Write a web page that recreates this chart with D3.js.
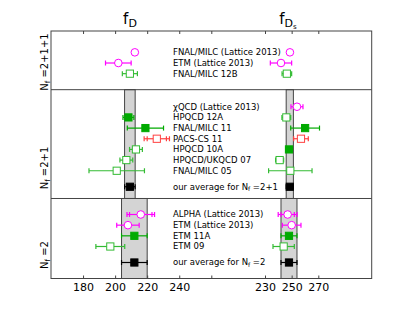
<!DOCTYPE html>
<html>
<head>
<meta charset="utf-8">
<script src="https://cdn.jsdelivr.net/npm/d3@7"></script>
<style>
  body { margin: 0; background: #fff; }
  svg { display: block; font-family: "DejaVu Sans", sans-serif; }
</style>
</head>
<body>
<svg></svg>
<script>
// Chart size
const width = 413, height = 310;

// Data: one entry per row, top to bottom
const sections = ['2+1+1', '2+1', '2'];
const labels = [
    'FNAL/MILC (Lattice 2013)', 'ETM (Lattice 2013)', 'FNAL/MILC 12B',
    'χQCD (Lattice 2013)', 'HPQCD 12A', 'FNAL/MILC 11', 'PACS-CS 11', 'HPQCD 10A',
    'HPQCD/UKQCD 07', 'FNAL/MILC 05', 'our average for',
    'ALPHA (Lattice 2013)', 'ETM (Lattice 2013)', 'ETM 11A', 'ETM 09', 'our average for'
];
const rowSection = [0, 0, 0, 1, 1, 1, 1, 1, 1, 1, 1, 2, 2, 2, 2, 2];
const fD      = [212.3, 202, 209.2, null, 208.3, 218.9, 226, 213, 207, 201, 209.2, 216, 208, 212, 197, 212];
const fDErr   = [1.0, 8, 4.7, null, 3.4, 11.3, 7.9, 4, 4, 17.3, 3.3, 8.6, 7, 8, 9, 8];
const fDStat  = [null, null, null, null, null, null, 6, null, null, null, null, 7, null, null, null, null];
const fDs     = [248.7, 242, 246.4, 254, 246.0, 260.1, 257, 248.0, 241, 249, 248.6, 247, 250, 248, 244, 248];
const fDsErr  = [1.0, 8, 3.6, 4.5, 3.3, 10.8, 5.5, 2.5, 3, 16.3, 2.7, 7.1, 7, 6, 8, 6];
const fDsStat = [null, null, null, null, null, null, null, null, null, null, null, 5, null, null, null, null];
// marker category per point
const fDKind  = ['conf', 'conf', 'open', null, 'filled', 'filled', 'red', 'open', 'open', 'open', 'avg',
                 'conf', 'conf', 'filled', 'open', 'avg'];
const fDsKind = ['conf', 'conf', 'open', 'conf', 'open', 'filled', 'red', 'filled', 'open', 'open', 'avg',
                 'conf', 'conf', 'filled', 'open', 'avg'];

// FLAG averages drawn as grey bands (section index, value, error)
const bandSection = [1, 2];
const bandFD      = [209.2, 212];
const bandFDErr   = [3.3, 8];
const bandFDs     = [248.6, 248];
const bandFDsErr  = [2.7, 6];

// axis ticks
const fDTicks = [180, 200, 220, 240, 260];
const fDTickLabels = ['180', '200', '220', '240', ''];
const fDsTicks = [230, 250, 270];

// marker styles
const styles = {
    conf:   {shape: 'circle', color: '#ff00ff', fill: '#fff'},
    filled: {shape: 'square', color: '#00aa00', fill: '#00aa00'},
    open:   {shape: 'square', color: '#33bb33', fill: '#fff'},
    red:    {shape: 'square', color: '#ff4040', fill: '#fff'},
    avg:    {shape: 'square', color: '#000', fill: '#000'}
};

const svg = d3.select('svg')
    .attr('width', width)
    .attr('height', height);

// plot frame
const pLeft = 51, pRight = 371.7, pTop = 31, pBottom = 278.5;

const xD = d3.scaleLinear().domain([160, 260]).range([pLeft, 211.3]);
const xDs = d3.scaleLinear().domain([230, 270]).range([265, 318.3]);

// vertical layout in row units
const padTop = [2, 1.6, 1.5], padBottom = [1.5, 1.1, 1.5];
let u = 0;
const rowU = [], secStart = [], secEnd = [];
sections.forEach((s, si) => {
    secStart.push(u);
    const idx = labels.map((_, i) => i).filter(i => rowSection[i] === si);
    idx.forEach((i, k) => {
        u += k === 0 ? padTop[si] : (fDKind[i] === 'avg' ? 1.5 : 1);
        rowU[i] = u;
    });
    u += padBottom[si];
    secEnd.push(u);
});
const y = d3.scaleLinear().domain([0, u]).range([pTop, pBottom]);

// grey bands
bandSection.forEach((si, j) => {
    [[xD, bandFD[j], bandFDErr[j]], [xDs, bandFDs[j], bandFDsErr[j]]].forEach(([sx, v, e]) => {
        svg.append('rect')
            .attr('x', sx(v - e))
            .attr('y', y(secStart[si]))
            .attr('width', sx(v + e) - sx(v - e))
            .attr('height', y(secEnd[si]) - y(secStart[si]))
            .attr('fill', '#d4d4d4')
            .attr('stroke', '#444')
            .attr('stroke-width', 1);
    });
});

// frame and section separators
svg.append('rect')
    .attr('x', pLeft).attr('y', pTop)
    .attr('width', pRight - pLeft).attr('height', pBottom - pTop)
    .attr('fill', 'none').attr('stroke', '#444').attr('stroke-width', 1);
secEnd.slice(0, -1).forEach(e => {
    svg.append('line')
        .attr('x1', pLeft).attr('x2', pRight)
        .attr('y1', y(e)).attr('y2', y(e))
        .attr('stroke', '#444').attr('stroke-width', 1);
});

// ticks on top and bottom
function addAxis(scale, ticks, fmt) {
    svg.append('g')
        .attr('transform', `translate(0,${pBottom})`)
        .call(d3.axisBottom(scale).tickValues(ticks).tickSize(-3).tickPadding(5).tickFormat((d, i) => fmt[i]))
        .call(g => g.select('.domain').remove())
        .call(g => g.selectAll('text').attr('font-size', 11).attr('font-family', 'DejaVu Sans').attr('fill', '#000'))
        .call(g => g.selectAll('line').attr('stroke', '#444'));
    svg.append('g')
        .attr('transform', `translate(0,${pTop})`)
        .call(d3.axisTop(scale).tickValues(ticks).tickSize(-3).tickFormat(''))
        .call(g => g.select('.domain').remove())
        .call(g => g.selectAll('line').attr('stroke', '#444'));
}
addAxis(xD, fDTicks, fDTickLabels);
addAxis(xDs, fDsTicks, fDsTicks.map(String));

// titles
const t1 = svg.append('text').attr('x', 130).attr('y', 24).attr('text-anchor', 'middle').attr('font-size', 15);
t1.append('tspan').text('f');
t1.append('tspan').attr('font-size', 11).attr('dy', 3).text('D');
const t2 = svg.append('text').attr('x', 288).attr('y', 24).attr('text-anchor', 'middle').attr('font-size', 15);
t2.append('tspan').text('f');
t2.append('tspan').attr('font-size', 11).attr('dy', 3).text('D');
t2.append('tspan').attr('font-size', 7).attr('dy', 2).text('s');

// N_f labels
const nfY = [62, 168, 255];
sections.forEach((s, si) => {
    const t = svg.append('text')
        .attr('transform', `translate(48,${nfY[si]}) rotate(-90)`)
        .attr('text-anchor', 'middle')
        .attr('font-size', 10);
    t.append('tspan').text('N');
    t.append('tspan').attr('font-size', 7).attr('dy', 2).text('f');
    t.append('tspan').attr('dy', -2).text(' =' + s);
});

// row labels
labels.forEach((l, i) => {
    const t = svg.append('text')
        .attr('x', 173)
        .attr('y', y(rowU[i]))
        .attr('dy', '0.35em')
        .attr('font-size', 8.5)
        .text(l);
    if (fDKind[i] === 'avg') {
        t.append('tspan').text(' N');
        t.append('tspan').attr('font-size', 6).attr('dy', 1.5).text('f');
        t.append('tspan').attr('dy', -1.5).text(' =' + sections[rowSection[i]]);
    }
});

// error bars and markers
function drawPoint(sx, v, e, st, kind, yy) {
    if (v == null) return;
    const s = styles[kind];
    const g = svg.append('g');
    const cap = 2.5;
    g.append('line')
        .attr('x1', sx(v - e)).attr('x2', sx(v + e))
        .attr('y1', yy).attr('y2', yy)
        .attr('stroke', s.color).attr('stroke-width', 1.2);
    const caps = [v - e, v + e];
    if (st != null) caps.push(v - st, v + st);
    caps.forEach(c => {
        g.append('line')
            .attr('x1', sx(c)).attr('x2', sx(c))
            .attr('y1', yy - cap).attr('y2', yy + cap)
            .attr('stroke', s.color).attr('stroke-width', 1.2);
    });
    if (s.shape === 'circle') {
        g.append('circle')
            .attr('cx', sx(v)).attr('cy', yy).attr('r', 3.8)
            .attr('fill', s.fill).attr('stroke', s.color).attr('stroke-width', 1);
    } else {
        const h = 3.6;
        g.append('rect')
            .attr('x', sx(v) - h).attr('y', yy - h)
            .attr('width', 2 * h).attr('height', 2 * h)
            .attr('fill', s.fill).attr('stroke', s.color).attr('stroke-width', 1);
    }
}
labels.forEach((l, i) => {
    const yy = y(rowU[i]);
    drawPoint(xD, fD[i], fDErr[i], fDStat[i], fDKind[i], yy);
    drawPoint(xDs, fDs[i], fDsErr[i], fDsStat[i], fDsKind[i], yy);
});
</script>
</body>
</html>
